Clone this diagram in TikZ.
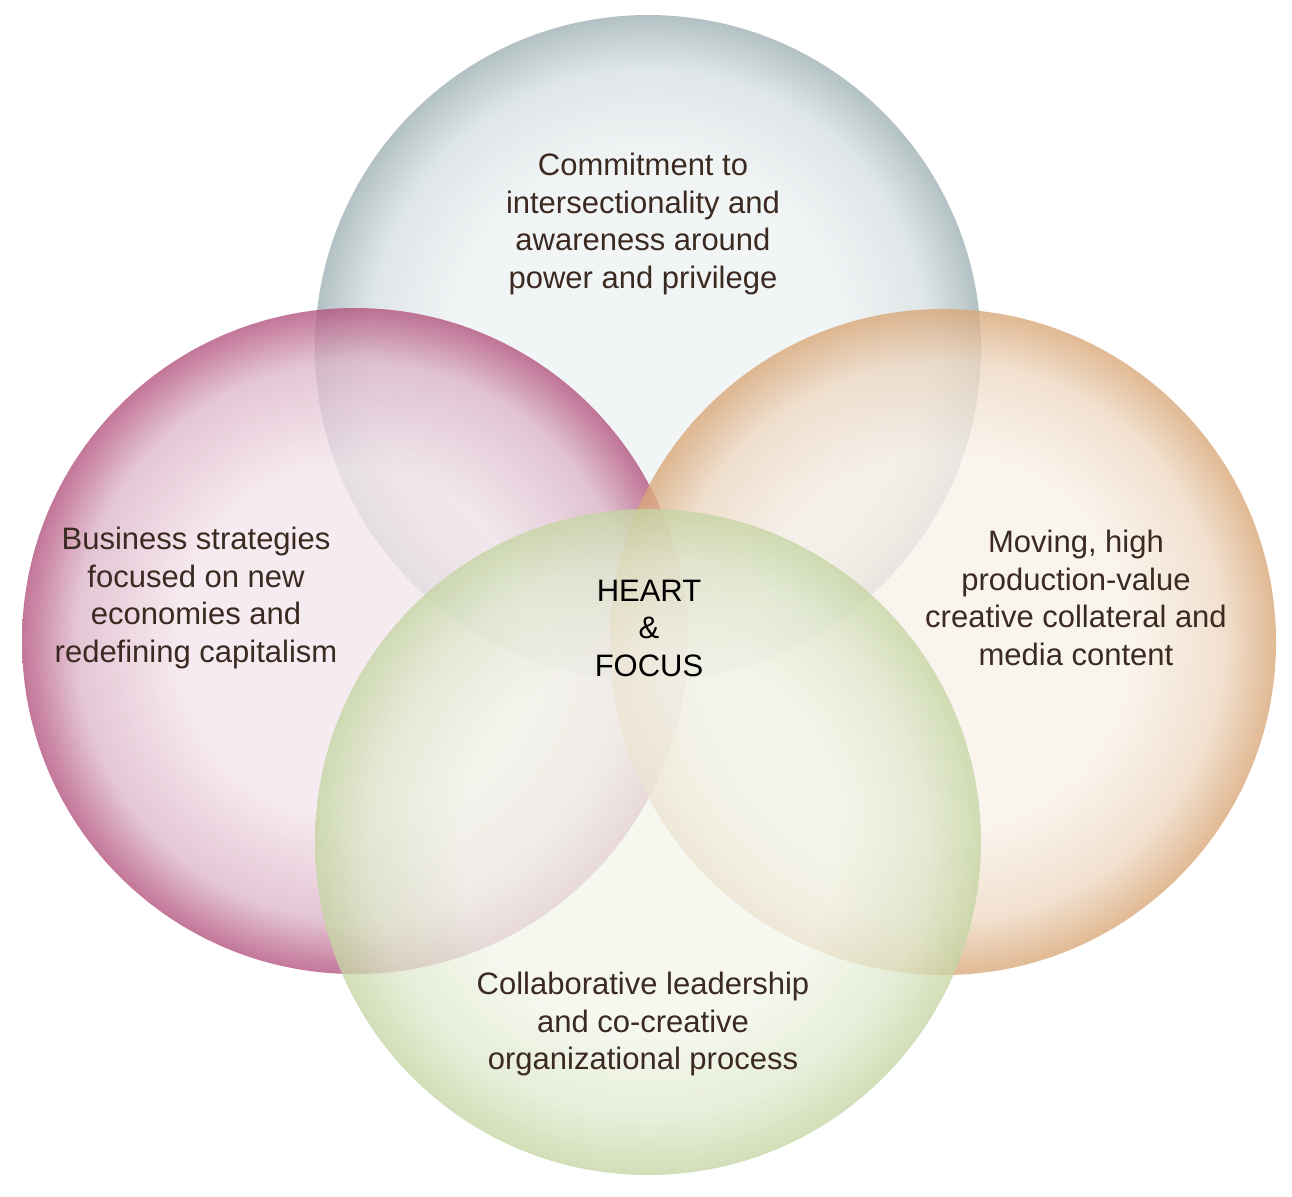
\documentclass[tikz,border=0pt]{standalone}
\usepackage{fontspec}
\setmainfont{Liberation Sans}
\definecolor{textc}{HTML}{3B2A22}
\definecolor{tin}{HTML}{EEF2F3}\definecolor{tmid}{HTML}{D6DFE1}\definecolor{tout}{HTML}{9EB0B4}
\definecolor{lin}{HTML}{F4E6EC}\definecolor{lmid}{HTML}{DDB5C8}\definecolor{lout}{HTML}{B2507C}
\definecolor{rin}{HTML}{F9F1E9}\definecolor{rmid}{HTML}{EED8C2}\definecolor{rout}{HTML}{D9A676}
\definecolor{bin}{HTML}{F3F6EC}\definecolor{bmid}{HTML}{DFE8CD}\definecolor{bout}{HTML}{C5D5A3}
\pgfdeclareradialshading{shT}{\pgfpoint{0bp}{0bp}}{color(0bp)=(tin);color(14bp)=(tin);color(21bp)=(tmid);color(25bp)=(tout);color(50bp)=(tout)}
\pgfdeclareradialshading{shL}{\pgfpoint{0bp}{0bp}}{color(0bp)=(lin);color(13bp)=(lin);color(21bp)=(lmid);color(25bp)=(lout);color(50bp)=(lout)}
\pgfdeclareradialshading{shR}{\pgfpoint{0bp}{0bp}}{color(0bp)=(rin);color(14bp)=(rin);color(21bp)=(rmid);color(25bp)=(rout);color(50bp)=(rout)}
\pgfdeclareradialshading{shB}{\pgfpoint{0bp}{0bp}}{color(0bp)=(bin);color(14bp)=(bin);color(21bp)=(bmid);color(25bp)=(bout);color(50bp)=(bout)}
\begin{document}
\begin{tikzpicture}[x=1pt,y=-1pt,
  circ/.style={circle,minimum size=666pt,inner sep=0pt,opacity=0.78},
  lbl/.style={align=center,text=textc,font=\fontsize{31}{37.5}\selectfont}]
\useasboundingbox (0,0) rectangle (1292,1196);
\node[circ,shading=shT] (top) at (648,348) {};
\node[circ,shading=shL] (left) at (355,641) {};
\node[circ,shading=shR] (right) at (943,642) {};
\node[circ,shading=shB] (bot) at (648,842) {};
\node[lbl] (tt) at (643,224) {Commitment to\\intersectionality and\\awareness around\\power and privilege};
\node[lbl] (lt) at (196,598) {Business strategies\\focused on new\\economies and\\redefining capitalism};
\node[lbl] (rt) at (1076,598) {Moving, high\\production-value\\creative collateral and\\media content};
\node[lbl] (bt) at (643,1024) {Collaborative leadership\\and co-creative\\organizational process};
\node[lbl,text=black] (ct) at (649,628) {HEART\\\&\\FOCUS};
\end{tikzpicture}
\end{document}
